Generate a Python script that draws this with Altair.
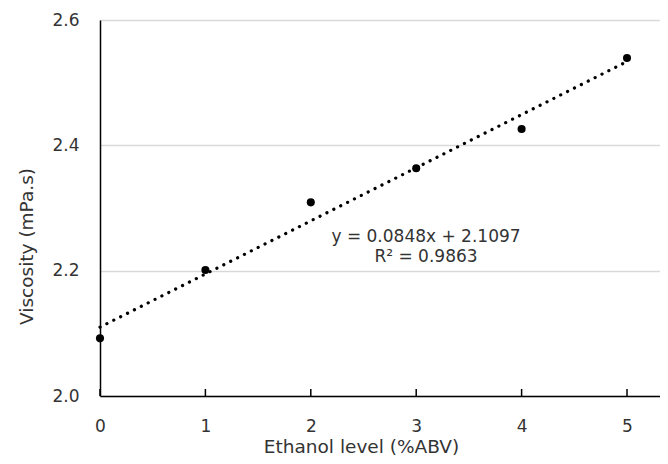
import altair as alt
import pandas as pd

# Data
ethanol = [0, 1, 2, 3, 4, 5]
viscosity = [2.092, 2.201, 2.309, 2.3635, 2.426, 2.5395]
x_ticks = [0, 1, 2, 3, 4, 5]
y_ticks = [2.0, 2.2, 2.4, 2.6]
eq_lines = ["y = 0.0848x + 2.1097", "R\u00b2 = 0.9863"]
eq_x = [3.093, 3.093]
eq_y = [2.2538, 2.2219]

FONT = "DejaVu Sans"
TXT = "#333333"

df = pd.DataFrame({"x": ethanol, "y": viscosity})
ticks_df = pd.DataFrame({"x": x_ticks})
eq_df = pd.DataFrame({"t": eq_lines, "x": eq_x, "y": eq_y})

xs = alt.Scale(domain=[0, 5.313], nice=False, zero=False)
ys = alt.Scale(domain=[2.0, 2.6], nice=False, zero=False)

x_axis = alt.Axis(values=x_ticks, ticks=False, grid=False, domainColor="black",
                  domainWidth=1.5, format="d", labelFlush=False, labelFont=FONT,
                  labelFontSize=17, labelColor=TXT, labelPadding=22,
                  title="Ethanol level (%ABV)", titleFont=FONT, titleFontSize=18.5,
                  titleFontWeight="normal", titleColor=TXT,
                  titleX=261, titleY=50, titleBaseline="middle", titleAlign="center")
y_axis = alt.Axis(values=y_ticks, ticks=False, grid=True, gridColor="#d9d9d9",
                  gridWidth=1.3, domainColor="black", domainWidth=1.5, format=".1f",
                  labelFlush=False, labelFont=FONT, labelFontSize=17, labelColor=TXT,
                  labelPadding=21, title="Viscosity (mPa.s)", titleFont=FONT,
                  titleFontSize=18.5, titleFontWeight="normal", titleColor=TXT,
                  titleX=-74, titleY=226, titleBaseline="middle", titleAlign="center")

base = alt.Chart(df)

points = base.mark_circle(color="black", opacity=1, size=65).encode(
    x=alt.X("x:Q", scale=xs, axis=x_axis),
    y=alt.Y("y:Q", scale=ys, axis=y_axis),
)

trend = base.transform_regression("x", "y", extent=[0, 5]).mark_line(
    color="black", strokeWidth=3.2, strokeDash=[0.1, 7.6], strokeCap="round"
).encode(x=alt.X("x:Q", scale=xs), y=alt.Y("y:Q", scale=ys))

tick_marks = alt.Chart(ticks_df).mark_tick(
    color="black", orient="vertical", size=7, thickness=1.5, yOffset=-3.5, opacity=1
).encode(
    x=alt.X("x:Q", scale=xs),
    y=alt.datum(2.0),
)

eq_text = alt.Chart(eq_df).mark_text(font=FONT, fontSize=17, color=TXT,
                                     align="center", baseline="middle").encode(
    x=alt.X("x:Q", scale=xs), y=alt.Y("y:Q", scale=ys), text="t:N"
)

chart = alt.layer(trend, tick_marks, points, eq_text).properties(
    width=560, height=376,
    autosize=alt.AutoSizeParams(type="none"),
    padding={"left": 92, "top": 12, "right": 0, "bottom": 60},
).configure_view(stroke=None).configure(background="white")

chart.save("out.html", embed_options={"renderer": "svg", "actions": False})
